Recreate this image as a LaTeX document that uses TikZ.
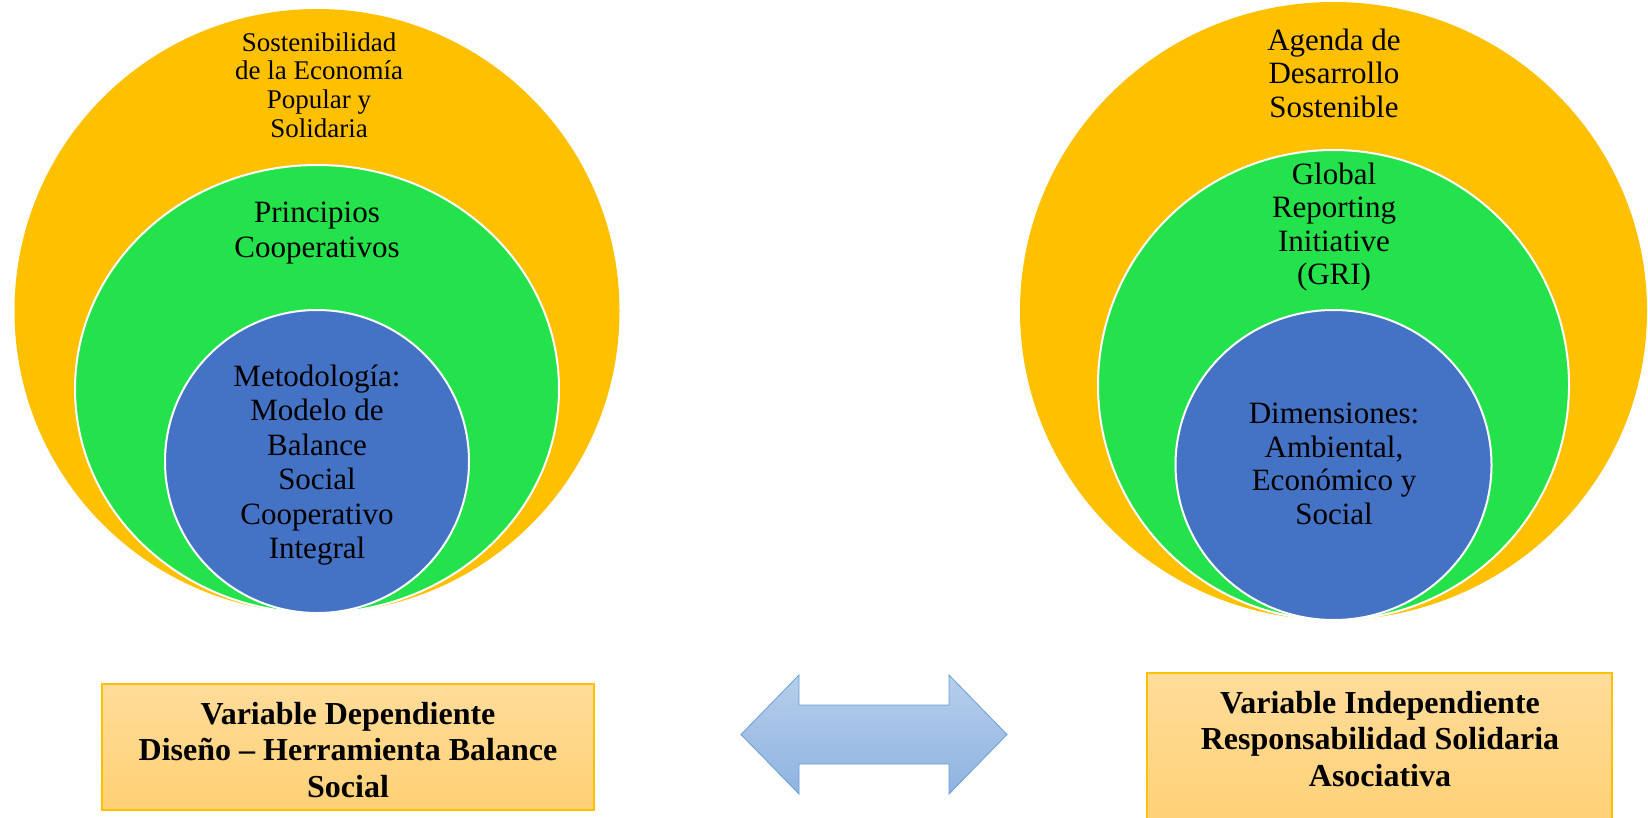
\documentclass[tikz,border=0pt]{standalone}
\usepackage{fontspec}
\setmainfont{Liberation Serif}
\usepackage{tikz}
\usetikzlibrary{shapes.geometric}

\definecolor{naranja}{HTML}{FFC000}
\definecolor{verde}{HTML}{24E24C}
\definecolor{azul}{HTML}{4472C4}
\definecolor{cajasup}{HTML}{FFDC9A}
\definecolor{cajainf}{HTML}{FFD175}
\definecolor{flechasup}{HTML}{B6CEEB}
\definecolor{flechainf}{HTML}{8FB3E0}
\definecolor{flechaborde}{HTML}{6A9FD8}

\begin{document}
\begin{tikzpicture}[x=1pt,y=-1pt,
        anillo/.style={ellipse,inner sep=0pt,draw=white,line width=2pt},
        texto/.style={align=center,inner sep=0pt,font=\fontsize{31}{33.5}\selectfont},
        caja/.style={rectangle,inner sep=0pt,draw=naranja,line width=1.5pt,
                top color=cajasup,bottom color=cajainf},
        titulo/.style={align=center,inner sep=0pt,font=\bfseries\fontsize{32}{36.7}\selectfont}]
        \clip (0,0) rectangle (1648,817);
        % circulos de la izquierda
        \node[anillo,draw=none,fill=naranja,minimum width=605pt,minimum height=604pt] (izqA) at (317,311) {};
        \node[anillo,fill=verde,minimum width=484pt,minimum height=448pt] (izqB) at (317,389) {};
        \node[anillo,fill=azul,minimum width=304pt,minimum height=303pt] (izqC) at (317,461.5) {};
        \node[texto,font=\fontsize{27}{28.8}\selectfont] (tIzqA) at (319,85)
                {Sostenibilidad\\de la Economía\\Popular y\\Solidaria};
        \node[texto,font=\fontsize{31}{35}\selectfont] (tIzqB) at (317,233)
                {Principios\\Cooperativos};
        \node[texto,font=\fontsize{31}{34.4}\selectfont] (tIzqC) at (317,465)
                {Metodología:\\Modelo de\\Balance\\Social\\Cooperativo\\Integral};
        % circulos de la derecha
        \node[anillo,draw=none,fill=naranja,minimum width=627pt,minimum height=618pt] (derA) at (1333.5,311) {};
        \node[anillo,fill=verde,minimum width=471pt,minimum height=470pt] (derB) at (1333.5,385) {};
        \node[anillo,fill=azul,minimum width=316pt,minimum height=310pt] (derC) at (1333.5,465) {};
        \node[texto] (tDerA) at (1334,73)
                {Agenda de\\Desarrollo\\Sostenible};
        \node[texto] (tDerB) at (1334,227)
                {Global\\Reporting\\Initiative\\(GRI)};
        \node[texto] (tDerC) at (1334,464)
                {Dimensiones:\\Ambiental,\\Económico y\\Social};
        % variables
        \node[caja,minimum width=492pt,minimum height=126pt] (cajaIzq) at (348,747) {};
        \node[titulo] (vIzq) at (348,750)
                {Variable Dependiente\\Diseño -- Herramienta Balance\\Social};
        \node[caja,minimum width=465pt,minimum height=157pt] (cajaDer) at (1379.5,751.5) {};
        \node[titulo] (vDer) at (1380,739)
                {Variable Independiente\\Responsabilidad Solidaria\\Asociativa};
        % flecha doble
        \draw[flechaborde,line width=0.8pt,top color=flechasup,bottom color=flechainf]
                (741,734.5) -- (799,675) -- (799,705) -- (949,705) -- (949,675)
                -- (1007,734.5) -- (949,794) -- (949,764) -- (799,764) -- (799,794) -- cycle;
\end{tikzpicture}
\end{document}
